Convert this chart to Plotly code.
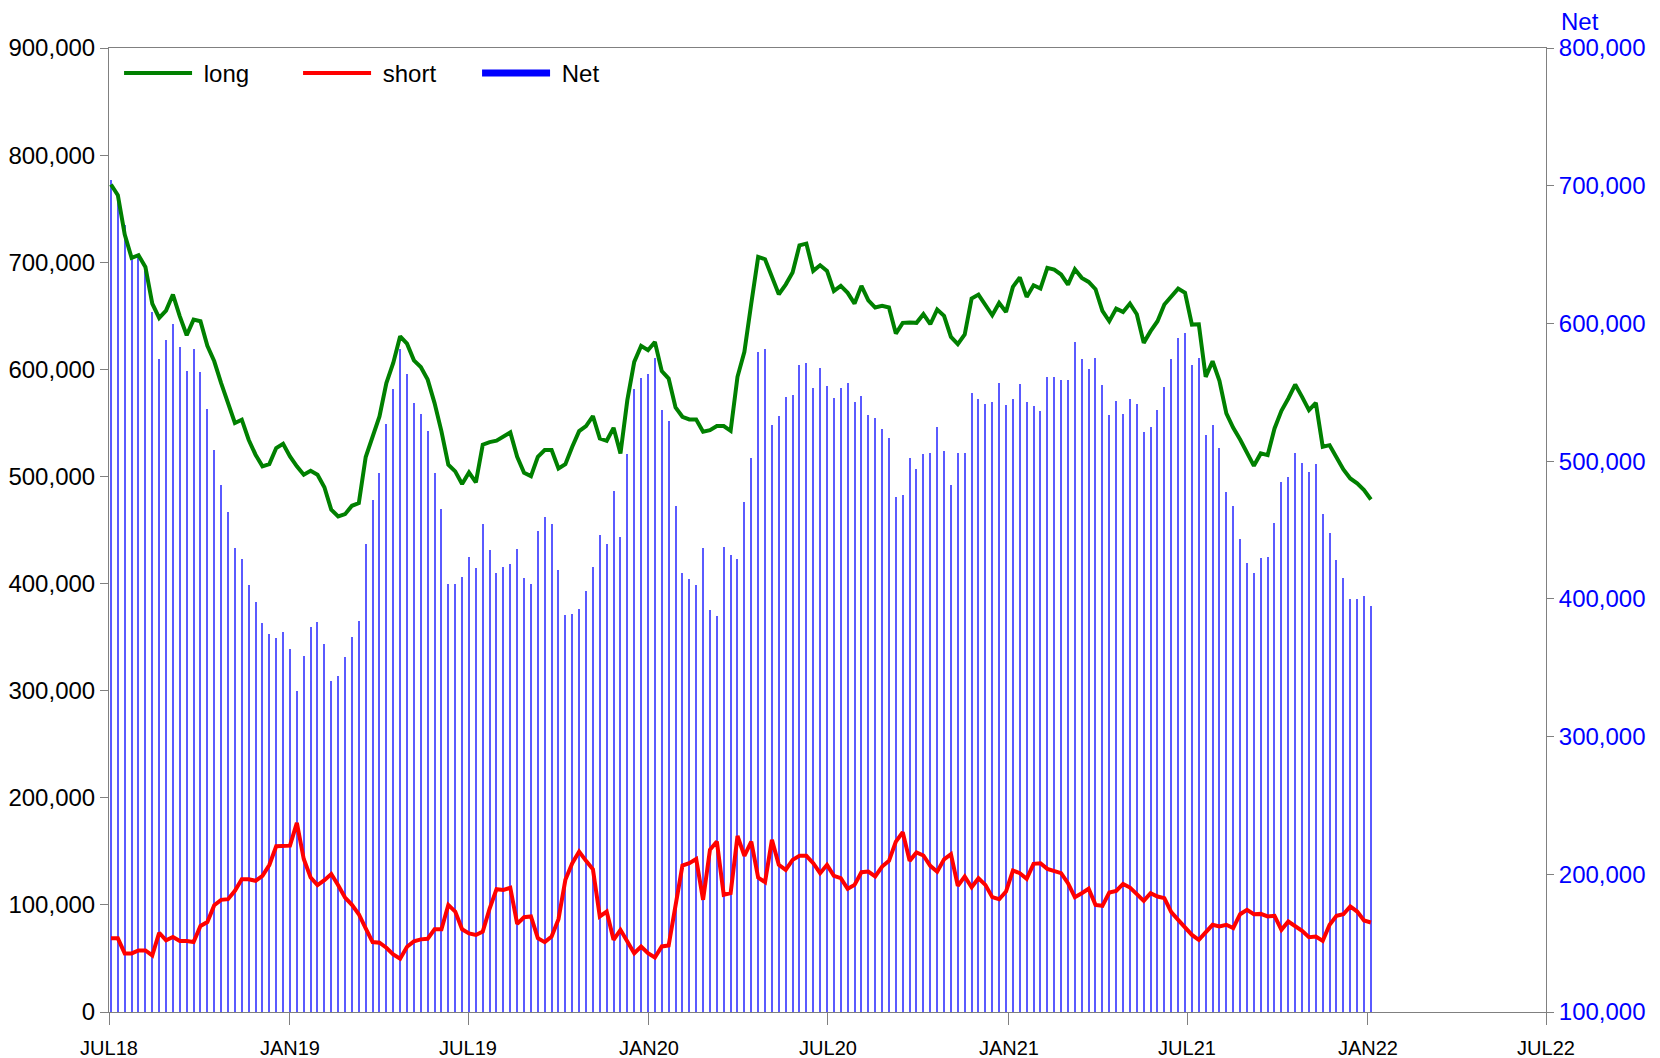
import pandas as pd
import plotly.graph_objects as go

# ---------------- data (thousands of contracts) ----------------
start_date = "2018-07-03"
n_weeks = 184

long_k = [
    772.6, 762.6, 725.9, 704.0, 706.5, 695.6, 661.4, 648.0, 654.8, 669.8,
    649.5, 631.8, 646.4, 644.9, 622.0, 607.5, 587.2, 568.5, 549.9, 553.0,
    534.3, 520.3, 509.4, 511.5, 526.5, 530.5, 518.7, 509.4, 501.6, 505.3,
    501.6, 490.0, 468.9, 462.6, 464.8, 472.6, 475.1, 518.1, 536.8, 556.1,
    587.2, 605.9, 630.8, 624.0, 608.4, 602.2, 590.4, 568.5, 542.1, 510.9,
    504.7, 492.9, 503.8, 494.4, 529.6, 532.1, 533.4, 537.4, 541.1, 518.3,
    503.4, 500.3, 518.3, 524.6, 524.6, 507.4, 511.5, 527.7, 542.3, 547.0,
    556.3, 535.4, 533.3, 545.4, 521.5, 571.2, 607.0, 621.9, 617.9, 625.6,
    598.3, 591.4, 564.4, 555.7, 553.2, 553.2, 541.7, 543.2, 547.0, 547.0,
    542.6, 593.0, 616.3, 661.4, 705.0, 702.8, 686.9, 670.1, 679.1, 690.3,
    715.8, 717.4, 691.9, 697.2, 691.9, 673.2, 677.9, 671.4, 661.4, 677.9,
    664.5, 657.7, 659.2, 657.7, 633.4, 643.4, 643.7, 643.4, 651.5, 642.1,
    655.8, 649.9, 630.3, 623.5, 632.5, 666.1, 669.8, 660.5, 650.5, 662.0,
    653.6, 677.0, 685.7, 667.6, 678.5, 675.4, 694.7, 693.1, 688.5, 679.1,
    693.4, 685.4, 681.6, 674.8, 654.6, 644.9, 656.7, 653.6, 661.4, 651.4,
    624.7, 635.6, 644.9, 660.5, 667.6, 675.4, 671.4, 641.8, 642.1, 593.0,
    607.6, 589.2, 558.8, 545.4, 534.5, 521.5, 509.9, 521.5, 519.9, 544.8,
    561.3, 572.8, 585.8, 574.3, 561.9, 568.7, 527.7, 529.2, 518.3, 506.5,
    498.1, 493.5, 487.2, 478.5,
]

short_k = [
    68.8, 68.8, 54.7, 54.7, 57.5, 57.5, 52.8, 74.0, 66.9, 70.0,
    66.3, 66.3, 65.3, 80.3, 84.0, 99.7, 104.7, 105.3, 113.1, 124.0,
    124.0, 122.5, 127.2, 137.2, 154.7, 154.7, 155.3, 176.6, 142.8, 125.6,
    118.4, 123.1, 128.8, 118.4, 106.9, 100.0, 91.3, 78.1, 65.3, 64.7,
    60.0, 53.8, 49.7, 60.9, 65.9, 67.8, 68.4, 77.2, 77.2, 100.0,
    93.8, 77.2, 73.4, 71.9, 75.0, 96.6, 114.7, 114.0, 116.0, 82.3,
    88.5, 89.2, 68.9, 65.2, 70.5, 86.7, 123.4, 138.9, 149.8, 141.1,
    133.3, 89.2, 93.8, 67.4, 76.7, 65.8, 54.9, 61.2, 54.9, 50.9,
    61.2, 62.1, 96.9, 136.7, 138.9, 142.9, 104.7, 151.4, 159.1, 109.4,
    110.9, 164.4, 145.8, 159.1, 125.5, 121.2, 160.7, 137.4, 132.7, 142.0,
    145.8, 145.8, 138.9, 129.6, 137.4, 127.1, 124.9, 115.0, 118.7, 130.5,
    131.1, 126.5, 135.8, 141.1, 159.1, 167.8, 141.1, 148.9, 146.1, 136.4,
    131.0, 142.6, 147.3, 117.8, 126.5, 116.5, 124.9, 118.7, 107.2, 105.3,
    112.5, 132.1, 129.6, 124.3, 138.3, 138.9, 133.6, 131.8, 129.6, 120.3,
    107.2, 110.9, 115.0, 100.0, 99.1, 111.5, 113.1, 119.6, 116.2, 110.0,
    103.8, 110.9, 107.8, 106.3, 93.2, 86.0, 78.3, 72.0, 67.4, 74.2,
    81.4, 79.8, 81.4, 78.3, 91.3, 95.4, 91.3, 91.6, 89.2, 89.8,
    76.7, 84.5, 79.8, 75.8, 69.9, 70.5, 66.4, 81.4, 89.8, 91.3,
    98.5, 93.8, 85.4, 83.6,
]

net_k = [
    703.8, 693.8, 671.2, 649.3, 649.0, 638.1, 608.6, 574.0, 587.9, 599.8,
    583.2, 565.5, 581.1, 564.6, 538.0, 507.8, 482.5, 463.2, 436.8, 429.0,
    410.3, 397.8, 382.2, 374.3, 371.8, 375.8, 363.4, 332.8, 358.8, 379.7,
    383.2, 366.9, 340.1, 344.2, 357.9, 372.6, 383.8, 440.0, 471.5, 491.4,
    527.2, 552.1, 581.1, 563.1, 542.5, 534.4, 522.0, 491.3, 464.9, 410.9,
    410.9, 415.7, 430.4, 422.5, 454.6, 435.5, 418.7, 423.4, 425.1, 436.0,
    414.9, 411.1, 449.4, 459.4, 454.1, 420.7, 388.1, 388.8, 392.5, 405.9,
    423.0, 446.2, 439.5, 478.0, 444.8, 505.4, 552.1, 560.7, 563.0, 574.7,
    537.1, 529.3, 467.5, 419.0, 414.3, 410.3, 437.0, 391.8, 387.9, 437.6,
    431.7, 428.6, 470.5, 502.3, 579.5, 581.6, 526.2, 532.7, 546.4, 548.3,
    570.0, 571.6, 553.0, 567.6, 554.5, 546.1, 553.0, 556.4, 542.7, 547.4,
    533.4, 531.2, 523.4, 516.6, 474.3, 475.6, 502.6, 494.5, 505.4, 505.7,
    524.8, 507.3, 483.0, 505.7, 506.0, 549.6, 544.9, 541.8, 543.3, 556.7,
    541.1, 544.9, 556.1, 543.3, 540.2, 536.5, 561.1, 561.3, 558.9, 558.8,
    586.2, 574.5, 566.6, 574.8, 555.5, 533.4, 543.6, 534.0, 545.2, 541.4,
    520.9, 524.7, 537.1, 554.2, 574.4, 589.4, 593.1, 569.8, 574.7, 518.8,
    526.2, 509.4, 477.4, 467.1, 443.2, 426.1, 418.6, 429.9, 430.7, 455.0,
    484.6, 488.3, 506.0, 498.5, 492.0, 498.2, 461.3, 447.8, 428.5, 415.2,
    399.6, 399.7, 401.8, 394.9,
]

x_tick_dates = ["2018-07-01", "2019-01-01", "2019-07-01", "2020-01-01", "2020-07-01",
                "2021-01-01", "2021-07-01", "2022-01-01", "2022-07-01"]
x_tick_labels = ["JUL18", "JAN19", "JUL19", "JAN20", "JUL20", "JAN21", "JUL21", "JAN22", "JUL22"]
left_ticks = [0, 100000, 200000, 300000, 400000, 500000, 600000, 700000, 800000, 900000]
right_ticks = [100000, 200000, 300000, 400000, 500000, 600000, 700000, 800000]

# ---------------- figure ----------------
dates = pd.date_range(start_date, periods=n_weeks, freq="7D")
long_v = [v * 1000 for v in long_k]
short_v = [v * 1000 for v in short_k]
net_v = [v * 1000 for v in net_k]

FONT = "Arial, Liberation Sans, sans-serif"
AXIS_GREY = "#808080"
DAY_MS = 86400000

fig = go.Figure()

fig.add_trace(go.Bar(
    x=dates, y=net_v, yaxis="y", width=DAY_MS * 1.1,
    marker=dict(color="rgb(90,90,255)", line=dict(width=0)),
    showlegend=False, name="Net", hoverinfo="x+y",
))
fig.add_trace(go.Scatter(
    x=dates, y=long_v, yaxis="y2", mode="lines", name="\u00a0long",
    line=dict(color="rgb(0,128,0)", width=4),
))
fig.add_trace(go.Scatter(
    x=dates, y=short_v, yaxis="y2", mode="lines", name="\u00a0short",
    line=dict(color="rgb(255,0,0)", width=4),
))
# legend entry for Net (shown as a thick line like the reference)
fig.add_trace(go.Scatter(
    x=[None], y=[None], yaxis="y", mode="lines", name="\u00a0Net",
    line=dict(color="rgb(0,0,255)", width=7),
))

fig.update_layout(
    width=1660, height=1058,
    margin=dict(l=109, r=114, t=48, b=46, pad=0),
    paper_bgcolor="white", plot_bgcolor="white",
    font=dict(family=FONT, size=24, color="black"),
    barmode="overlay",
    bargap=0,
    xaxis=dict(
        type="date", range=["2018-07-01", "2022-07-01"],
        tickvals=x_tick_dates, ticktext=x_tick_labels,
        tickfont=dict(size=20, color="black"),
        ticks="outside", ticklen=12, tickcolor=AXIS_GREY, tickwidth=1,
        showline=True, linecolor=AXIS_GREY, linewidth=1, mirror=True,
        showgrid=False, zeroline=False, ticklabelstandoff=6,
        automargin=False,
    ),
    yaxis=dict(
        side="right", range=[100000, 800000],
        tickvals=right_ticks, tickformat=",",
        tickfont=dict(size=24, color="rgb(0,0,255)"),
        ticks="outside", ticklen=7, tickcolor=AXIS_GREY,
        showline=True, linecolor=AXIS_GREY, linewidth=1,
        showgrid=False, zeroline=False, automargin=False,
    ),
    yaxis2=dict(
        side="left", overlaying="y", range=[0, 900000],
        tickvals=left_ticks, tickformat=",",
        tickfont=dict(size=24, color="black"),
        ticks="outside", ticklen=8, tickcolor=AXIS_GREY,
        showline=True, linecolor=AXIS_GREY, linewidth=1,
        showgrid=False, zeroline=False, automargin=False,
    ),
    legend=dict(
        orientation="h", x=0.007, y=0.997, xanchor="left", yanchor="top",
        font=dict(size=24, color="black"), bgcolor="rgba(0,0,0,0)",
        itemwidth=68, entrywidth=96, traceorder="normal",
    ),
    annotations=[dict(
        text="Net", xref="paper", yref="paper", x=1, y=1,
        xanchor="left", yanchor="bottom", xshift=13, yshift=11,
        showarrow=False, font=dict(size=24, color="rgb(0,0,255)"),
    )],
    showlegend=True,
)

fig.write_html("out.html", config={"displayModeBar": False},
               post_script="document.body.style.margin='0';")
